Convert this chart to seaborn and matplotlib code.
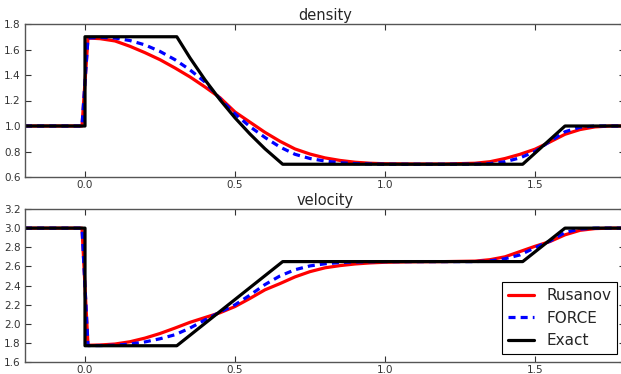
import matplotlib
matplotlib.use('Agg')
import matplotlib.pyplot as plt
import seaborn as sns

# Grid the numerical solutions were read on
x_num = [-0.2, -0.1, -0.01, 0.01, 0.05, 0.1, 0.15, 0.2, 0.25, 0.3, 0.35, 0.4,
         0.45, 0.5, 0.55, 0.6, 0.65, 0.7, 0.75, 0.8, 0.85, 0.9, 0.95, 1.0,
         1.1, 1.2, 1.3, 1.35, 1.4, 1.45, 1.5, 1.55, 1.6, 1.65, 1.7, 1.75, 1.8]

rho_rusanov = [1.0, 1.0, 1.0, 1.69, 1.685, 1.667, 1.625, 1.575, 1.52, 1.455,
               1.385, 1.306, 1.222, 1.11, 1.03, 0.95, 0.88, 0.82, 0.78, 0.75,
               0.73, 0.716, 0.708, 0.704, 0.702, 0.702, 0.708, 0.72, 0.745,
               0.778, 0.818, 0.875, 0.935, 0.972, 0.993, 1.0, 1.0]
rho_force = [1.0, 1.0, 1.0, 1.69, 1.695, 1.69, 1.67, 1.636, 1.585, 1.52,
             1.44, 1.345, 1.213, 1.095, 0.995, 0.91, 0.835, 0.778, 0.745,
             0.725, 0.712, 0.705, 0.702, 0.70, 0.70, 0.70, 0.701, 0.705, 0.72,
             0.75, 0.80, 0.88, 0.955, 0.99, 1.0, 1.0, 1.0]

u_rusanov = [3.0, 3.0, 3.0, 1.775, 1.778, 1.788, 1.812, 1.85, 1.898, 1.955,
             2.015, 2.065, 2.115, 2.18, 2.265, 2.355, 2.42, 2.49, 2.545, 2.585,
             2.608, 2.625, 2.636, 2.643, 2.648, 2.65, 2.655, 2.67, 2.7, 2.755,
             2.81, 2.86, 2.93, 2.977, 2.995, 3.0, 3.0]
u_force = [3.0, 3.0, 3.0, 1.772, 1.772, 1.775, 1.788, 1.81, 1.843, 1.885,
           1.955, 2.04, 2.122, 2.198, 2.30, 2.41, 2.50, 2.565, 2.605, 2.627,
           2.64, 2.646, 2.649, 2.65, 2.65, 2.65, 2.65, 2.657, 2.68, 2.72,
           2.795, 2.865, 2.955, 2.99, 3.0, 3.0, 3.0]

# Exact solution
x_rho_exact = [-0.2, 0.0, 0.0, 0.306, 0.35, 0.4, 0.45, 0.5, 0.55, 0.6, 0.659,
               1.459, 1.6, 1.8]
rho_exact = [1.0, 1.0, 1.7, 1.7, 1.534, 1.362, 1.206, 1.064, 0.937, 0.821, 0.7,
             0.7, 1.0, 1.0]
x_u_exact = [-0.2, 0.0, 0.0, 0.306, 0.659, 1.459, 1.6, 1.8]
u_exact = [3.0, 3.0, 1.77, 1.77, 2.65, 2.65, 3.0, 3.0]

sns.set_style('white')
plt.rcParams.update({
    'font.family': ['DejaVu Sans'],
    'xtick.direction': 'in', 'ytick.direction': 'in',
    'xtick.top': True, 'ytick.right': True,
    'xtick.bottom': True, 'ytick.left': True,
    'xtick.major.size': 4, 'ytick.major.size': 4,
    'xtick.labelsize': 7.5, 'ytick.labelsize': 7.5,
    'xtick.color': '#333333', 'ytick.color': '#333333',
    'axes.edgecolor': '#555555', 'axes.linewidth': 1.0,
})

fig = plt.figure(figsize=(6.21, 3.74), dpi=100)
ax1 = fig.add_axes([25 / 621, 1 - 177 / 374, 600 / 621, 153 / 374])
ax2 = fig.add_axes([25 / 621, 1 - 362 / 374, 600 / 621, 153 / 374])

lw = 2.3
for ax, rus, frc, xe, ex, title in [
        (ax1, rho_rusanov, rho_force, x_rho_exact, rho_exact, 'density'),
        (ax2, u_rusanov, u_force, x_u_exact, u_exact, 'velocity')]:
    sns.lineplot(x=x_num, y=rus, ax=ax, color='red', lw=lw, sort=False,
                 estimator=None, label='Rusanov')
    sns.lineplot(x=x_num, y=frc, ax=ax, color='blue', lw=lw, sort=False,
                 estimator=None, label='FORCE', linestyle='--')
    ax.lines[-1].set_dashes([2.2, 1.6])
    sns.lineplot(x=xe, y=ex, ax=ax, color='black', lw=lw, sort=False,
                 estimator=None, label='Exact')
    ax.set_title(title, fontsize=10.5, pad=3)
    ax.set_xlim(-0.2, 1.8)
    ax.set_xticks([0.0, 0.5, 1.0, 1.5])
    ax.set_xticklabels(['0.0', '0.5', '1.0', '1.5'])
    ax.tick_params(axis='x', pad=2)
    ax.tick_params(axis='y', pad=3)

ax1.set_ylim(0.6, 1.8)
ax1.set_yticks([0.6, 0.8, 1.0, 1.2, 1.4, 1.6, 1.8])
ax1.set_yticklabels(['0.6', '0.8', '1.0', '1.2', '1.4', '1.6', '1.8'])
ax1.get_legend().remove()

ax2.set_ylim(1.6, 3.2)
ax2.set_yticks([1.6, 1.8, 2.0, 2.2, 2.4, 2.6, 2.8, 3.0, 3.2])
ax2.set_yticklabels(['1.6', '1.8', '2.0', '2.2', '2.4', '2.6', '2.8', '3.0', '3.2'])
leg = ax2.legend(loc='lower right', fontsize=11, fancybox=False,
                 framealpha=1, edgecolor='black', handlelength=1.7,
                 borderaxespad=0.5)
leg.get_frame().set_linewidth(0.8)

fig.savefig('out.png', dpi=100)
